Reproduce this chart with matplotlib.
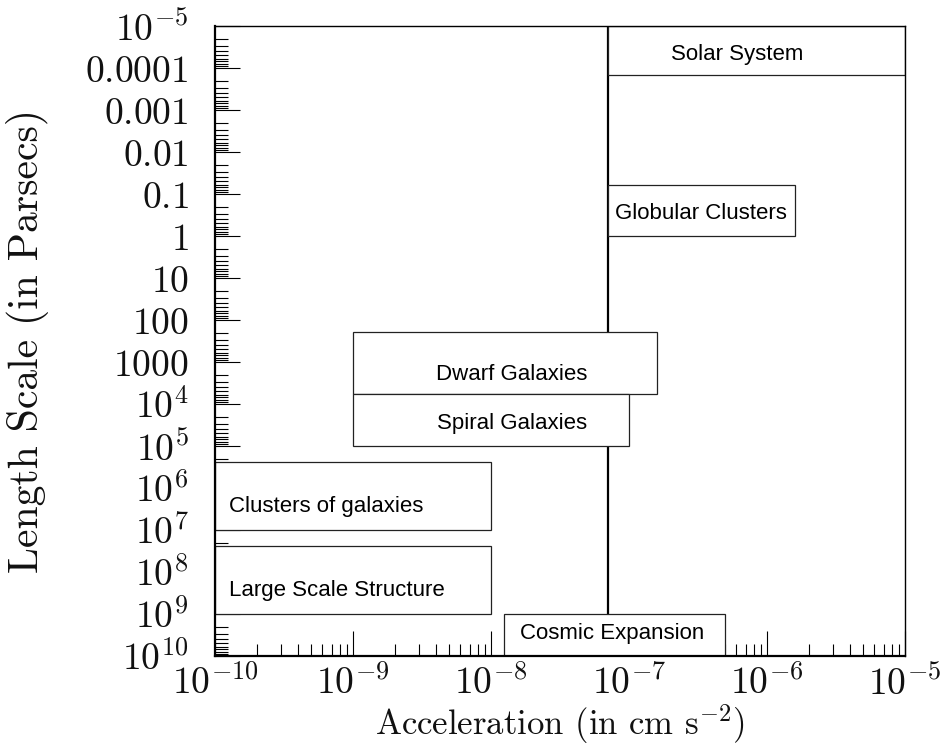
import matplotlib
matplotlib.use('Agg')
import matplotlib.pyplot as plt
from matplotlib.patches import Rectangle
from matplotlib.ticker import FixedLocator, LogLocator, NullFormatter
import numpy as np

# regimes: acceleration range (cm s^-2) and length range (pc)
regimes = ['Solar System', 'Globular Clusters', 'Dwarf Galaxies', 'Spiral Galaxies',
           'Clusters of galaxies', 'Large Scale Structure', 'Cosmic Expansion']
acc_lo = [7e-8, 7e-8, 1e-9, 1e-9, 1e-10, 1e-10, 1.25e-8]
acc_hi = [1e-5, 1.6e-6, 1.6e-7, 1e-7, 1e-8, 1e-8, 5e-7]
len_lo = [1e-5, 0.06, 190, 5800, 2.4e5, 2.4e7, 1e9]
len_hi = [1.5e-4, 1.0, 5800, 1e5, 1e7, 1e9, 1e10]

a_crit = 7e-8  # vertical line (~cH0)

x_ticks = [1e-10, 1e-9, 1e-8, 1e-7, 1e-6, 1e-5]
x_ticklabels = [r'$10^{-10}$', r'$10^{-9}$', r'$10^{-8}$', r'$10^{-7}$', r'$10^{-6}$', r'$10^{-5}$']
y_ticks = [10.0 ** k for k in range(-5, 11)]
y_ticklabels = [r'$10^{-5}$', '$0.0001$', '$0.001$', '$0.01$', '$0.1$', '$1$', '$10$', '$100$',
                '$1000$', r'$10^{4}$', r'$10^{5}$', r'$10^{6}$', r'$10^{7}$', r'$10^{8}$',
                r'$10^{9}$', r'$10^{10}$']

# label placement: alignment and pixel offsets from box centre (or left edge)
label_ha = ['center', 'center', 'center', 'center', 'left', 'left', 'center']
label_off = [(-19, -3.5), (0, -3.5), (7, -11.5), (21, -3.5), (14, -10.5), (14, -10.5), (-3, 1)]

plt.rcParams['mathtext.fontset'] = 'cm'

fig = plt.figure(figsize=(9.47, 7.44), dpi=100)
ax = fig.add_axes([215 / 947, 88 / 744, 690 / 947, 630 / 744])
ax.set_xscale('log')
ax.set_yscale('log')
ax.set_xlim(1e-10, 1e-5)
ax.set_ylim(1e10, 1e-5)

ax.axvline(a_crit, color='black', lw=1.6, zorder=1)

for i, name in enumerate(regimes):
    rect = Rectangle((acc_lo[i], len_lo[i]), acc_hi[i] - acc_lo[i], len_hi[i] - len_lo[i],
                     facecolor='white', edgecolor='#222222', lw=0.9, zorder=2)
    ax.add_patch(rect)
    if label_ha[i] == 'left':
        xc = acc_lo[i]
    else:
        xc = np.sqrt(acc_lo[i] * acc_hi[i])
    yc = np.sqrt(len_lo[i] * len_hi[i])
    dx, dy = label_off[i]
    ax.annotate(name, (xc, yc), xytext=(dx, dy), textcoords='offset pixels',
                ha=label_ha[i], va='center', fontsize=16, family='Liberation Sans', zorder=3)

ax.xaxis.set_major_locator(FixedLocator(x_ticks))
ax.set_xticklabels(x_ticklabels)
ax.yaxis.set_major_locator(FixedLocator(y_ticks))
ax.set_yticklabels(y_ticklabels)
ax.xaxis.set_minor_locator(LogLocator(base=10, subs=np.arange(2, 10), numticks=50))
ax.yaxis.set_minor_locator(LogLocator(base=10, subs=np.arange(2, 10), numticks=50))
ax.xaxis.set_minor_formatter(NullFormatter())
ax.yaxis.set_minor_formatter(NullFormatter())

ax.tick_params(which='both', direction='in', top=False, right=False, width=0.8)
ax.tick_params(which='major', length=18, labelsize=27, labelcolor='#111111')
ax.tick_params(which='minor', length=9)
ax.tick_params(axis='y', which='major', pad=19)
ax.tick_params(axis='x', which='major', pad=7)

for side in ['left', 'bottom']:
    ax.spines[side].set_linewidth(1.6)
for side in ['top', 'right']:
    ax.spines[side].set_linewidth(1.0)

ax.set_xlabel(r'Acceleration (in cm s$^{-2}$)', family='cmr10', fontsize=25,
              va='baseline', color='#111111')
ax.xaxis.set_label_coords(0.5, -0.1245)
ax.set_ylabel('Length Scale (in Parsecs)', family='cmr10', fontsize=30, va='center',
              color='#111111')
ax.yaxis.set_label_coords(-0.272, 0.5)

fig.savefig('out.png', dpi=100)
